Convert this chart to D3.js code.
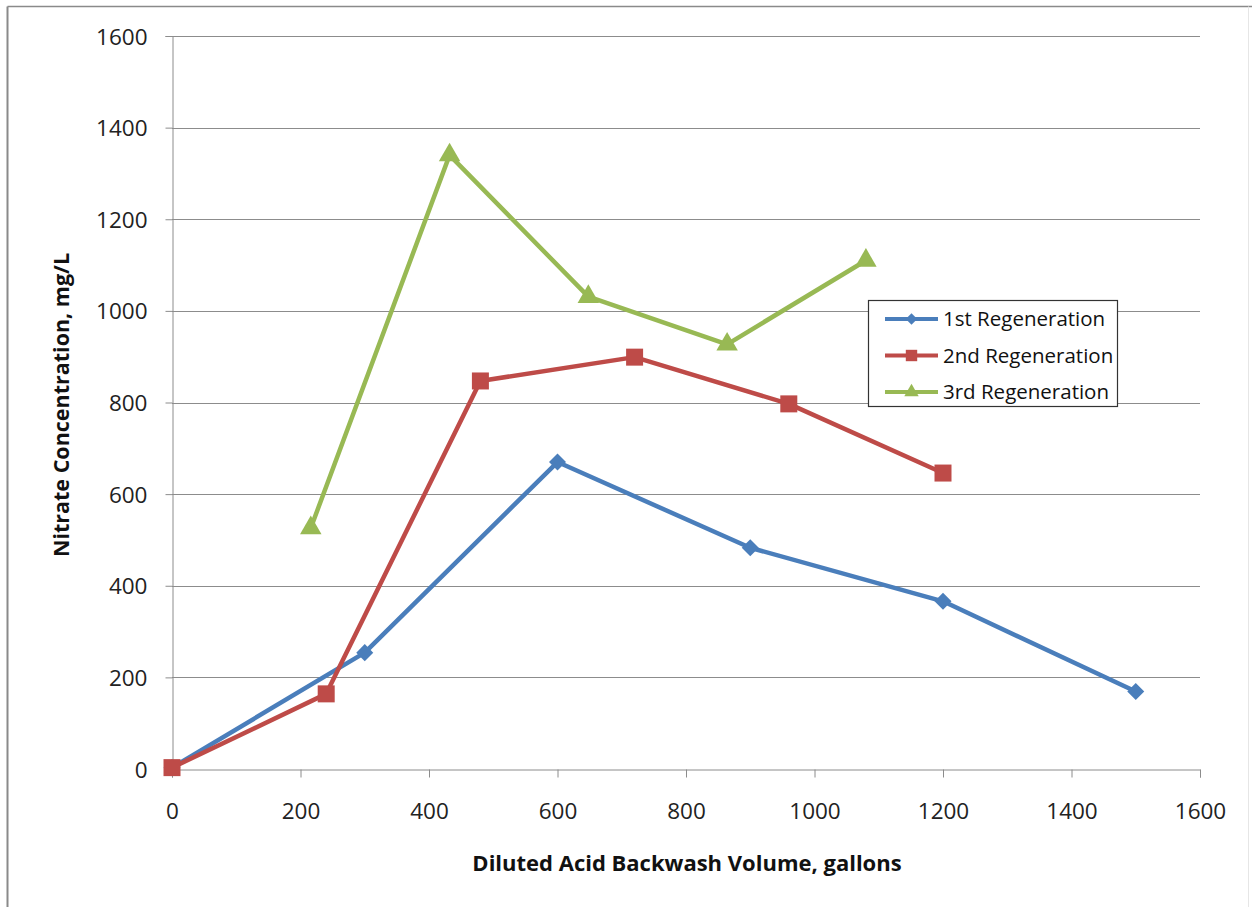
<!DOCTYPE html>
<html>
<head>
<meta charset="utf-8">
<script src="https://cdn.jsdelivr.net/npm/d3@7"></script>
<style>
  html, body { margin: 0; padding: 0; background: #fff; }
  svg { display: block; font-family: "Open Sans", Lato, sans-serif; }
</style>
</head>
<body>
<svg id="chart" width="1252" height="907"></svg>
<script>
// Backwash volume (gallons) and nitrate concentration (mg/L) per regeneration
const volume1 = [0, 300, 600, 900, 1200, 1500];
const nitrate1 = [3, 254, 670, 483, 366, 169];
const volume2 = [0, 240, 480, 720, 960, 1200];
const nitrate2 = [3, 164, 847, 899, 797, 646];
const volume3 = [216, 432, 648, 864, 1080];
const nitrate3 = [526, 1340, 1031, 927, 1110];

const seriesNames = ["1st Regeneration", "2nd Regeneration", "3rd Regeneration"];
const xTicks = [0, 200, 400, 600, 800, 1000, 1200, 1400, 1600];
const yTicks = [0, 200, 400, 600, 800, 1000, 1200, 1400, 1600];

// marker shapes: diamond is a square turned 45 degrees
const series = [
  { name: seriesNames[0], xs: volume1, ys: nitrate1, color: "#4a7ebb", marker: d3.symbolSquare, rot: 45, size: 145 },
  { name: seriesNames[1], xs: volume2, ys: nitrate2, color: "#be4b48", marker: d3.symbolSquare, rot: 0, size: 289 },
  { name: seriesNames[2], xs: volume3, ys: nitrate3, color: "#98b954", marker: d3.symbolTriangle, rot: 0, size: 200 }
];

const svg = d3.select("#chart");
const plotLeft = 172, plotRight = 1200, plotTop = 36, plotBottom = 769;

const x = d3.scaleLinear().domain([0, 1600]).range([plotLeft, plotRight]);
const y = d3.scaleLinear().domain([0, 1600]).range([plotBottom, plotTop]);

// outer chart frame (top and left edges visible, faint right edge)
svg.append("line").attr("x1", 7.5).attr("x2", 1252).attr("y1", 6.5).attr("y2", 6.5)
  .attr("stroke", "#8a8a8a").attr("stroke-width", 1.5);
svg.append("line").attr("x1", 7.5).attr("x2", 7.5).attr("y1", 6.5).attr("y2", 907)
  .attr("stroke", "#8a8a8a").attr("stroke-width", 2);
svg.append("line").attr("x1", 1248.5).attr("x2", 1248.5).attr("y1", 6.5).attr("y2", 907)
  .attr("stroke", "#e6e6e6").attr("stroke-width", 1);

// horizontal gridlines
svg.append("g").selectAll("line").data(yTicks.filter(d => d > 0)).join("line")
  .attr("x1", plotLeft).attr("x2", plotRight)
  .attr("y1", d => Math.round(y(d)) + 0.5).attr("y2", d => Math.round(y(d)) + 0.5)
  .attr("stroke", "#8c8c8c").attr("stroke-width", 1);

// y axis
const yAxis = svg.append("g").attr("transform", `translate(${plotLeft + 0.5},0)`)
  .call(d3.axisLeft(y).tickValues(yTicks).tickSize(7).tickPadding(18).tickFormat(d3.format("d")));
// x axis
const xAxis = svg.append("g").attr("transform", `translate(0,${plotBottom + 0.5})`)
  .call(d3.axisBottom(x).tickValues(xTicks).tickSize(8).tickPadding(26).tickFormat(d3.format("d")));

[yAxis, xAxis].forEach(g => {
  g.select(".domain").attr("stroke", "#8c8c8c").attr("stroke-width", 1);
  g.selectAll(".tick line").attr("stroke", "#8c8c8c");
  g.selectAll(".tick text").attr("fill", "#222").style("font-size", "22.5px")
    .style("font-family", "'Open Sans', Lato, sans-serif");
});
yAxis.selectAll(".tick text").attr("dy", "0.36em");

// axis titles
svg.append("text").attr("x", 687).attr("y", 871).attr("text-anchor", "middle")
  .style("font-size", "22px").style("font-weight", "bold").attr("fill", "#111")
  .text("Diluted Acid Backwash Volume, gallons");
svg.append("text").attr("transform", "translate(69,405) rotate(-90)").attr("text-anchor", "middle")
  .style("font-size", "21.5px").style("font-weight", "bold").attr("fill", "#111")
  .text("Nitrate Concentration, mg/L");

// series lines and markers
const line = d3.line().x(d => x(d[0])).y(d => y(d[1]));
series.forEach(s => {
  const pts = s.xs.map((v, i) => [v, s.ys[i]]);
  svg.append("path").datum(pts).attr("d", line)
    .attr("fill", "none").attr("stroke", s.color).attr("stroke-width", 4.5)
    .attr("stroke-linejoin", "round");
  svg.append("g").selectAll("path").data(pts).join("path")
    .attr("transform", d => `translate(${x(d[0])},${y(d[1])}) rotate(${s.rot})`)
    .attr("d", d3.symbol().type(s.marker).size(s.size))
    .attr("fill", s.color);
});

// legend
const lg = svg.append("g");
lg.append("rect").attr("x", 868.5).attr("y", 300.5).attr("width", 249).attr("height", 106)
  .attr("fill", "#fff").attr("stroke", "#333").attr("stroke-width", 1.2);
series.forEach((s, i) => {
  const cy = 319 + i * 36.5;
  lg.append("line").attr("x1", 885).attr("x2", 938).attr("y1", cy).attr("y2", cy)
    .attr("stroke", s.color).attr("stroke-width", 4);
  lg.append("path").attr("transform", `translate(911.5,${cy}) rotate(${s.rot})`)
    .attr("d", d3.symbol().type(s.marker).size(s.size * 0.45)).attr("fill", s.color);
  lg.append("text").attr("x", 943).attr("y", cy).attr("dy", "0.36em")
    .style("font-size", "20.5px").attr("fill", "#111").text(s.name);
});
</script>
</body>
</html>
